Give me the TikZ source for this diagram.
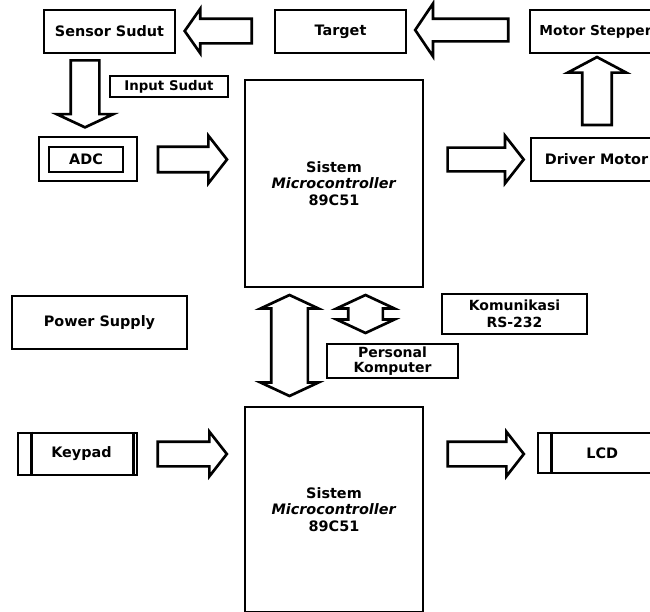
\documentclass[tikz,border=0pt]{standalone}
\usepackage{fontspec}
\setmainfont{DejaVu Sans}
\usetikzlibrary{shapes.arrows}

\tikzset{every picture/.style={line width=2pt}}
\tikzset{
  blk/.style={draw, line width=2pt, inner sep=0pt, align=center, font=\bfseries\fontsize{10.8}{12.6}\selectfont},
  blkarrow/.style={single arrow, draw, line width=2pt, inner sep=0pt, single arrow tip angle=104},
  dblarrow/.style={double arrow, draw, line width=2pt, inner sep=0pt, double arrow tip angle=130},
}

\begin{document}
\begin{tikzpicture}[x=0.75pt,y=0.75pt,yscale=-1,xscale=1]
    \clip (0,0) rectangle (650,611);
    % top row
    \node [blk, minimum width=98.25pt, minimum height=32.25pt] (sensor) at (109.5,31.5) {Sensor Sudut};
    \node [blk, minimum width=98.25pt, minimum height=32.25pt] (target) at (340.5,31.5) {Target};
    \node [blk, minimum width=98.25pt, minimum height=32.25pt, font=\bfseries\fontsize{10.3}{12}\selectfont] (stepper) at (595.5,31.5) {Motor Stepper};
    \node [blk, minimum width=88.5pt, minimum height=15.75pt, font=\bfseries\fontsize{10}{12}\selectfont] (insudut) at (169,86.5) {Input Sudut};
    % first microcontroller
    \node [blk, minimum width=133.5pt, minimum height=155.25pt] (mcu1) at (334,183.5) {Sistem\\\textit{Microcontroller}\\89C51};
    \node [blk, minimum width=73.5pt, minimum height=33pt] (adcbox) at (88,159) {};
    \node [blk, minimum width=55.5pt, minimum height=18.75pt] (adc) at (86,159.5) {ADC};
    \node [blk, minimum width=98.25pt, minimum height=32.25pt] (driver) at (596.5,159.5) {Driver Motor};
    % middle
    \node [blk, minimum width=131.25pt, minimum height=39.75pt] (power) at (99.5,322.5) {Power Supply};
    \node [blk, minimum width=108.75pt, minimum height=30pt, font=\bfseries\fontsize{10.5}{12.5}\selectfont] (rs232) at (514.5,314) {Komunikasi\\RS-232};
    \node [blk, minimum width=98.25pt, minimum height=25.5pt, font=\bfseries\fontsize{10.5}{11.5}\selectfont] (pc) at (392.5,361) {Personal\\Komputer};
    % second microcontroller
    \node [blk, minimum width=133.5pt, minimum height=153.75pt] (mcu2) at (334,509.5) {Sistem\\\textit{Microcontroller}\\89C51};
    \node [blk, minimum width=89.25pt, minimum height=31.5pt] (keypad) at (77.5,454) {\hspace{6pt}Keypad};
    \node [blk, minimum width=88.5pt, minimum height=30pt] (lcd) at (597,453) {\hspace{8pt}LCD};
    \draw ([xshift=11.25pt]keypad.north west) -- ([xshift=11.25pt]keypad.south west);
    \draw ([xshift=-3.75pt]keypad.north east) -- ([xshift=-3.75pt]keypad.south east);
    \draw ([xshift=11.25pt]lcd.north west) -- ([xshift=11.25pt]lcd.south west);
    % block arrows
    \node [blkarrow, shape border rotate=180, inner ysep=8.25pt, minimum height=50.25pt, minimum width=31.5pt, single arrow head extend=7.5pt, single arrow tip angle=110] (tgtsens) at (222.5,31) {};
    \node [blkarrow, shape border rotate=180, inner ysep=7.5pt, minimum height=69.75pt, minimum width=37.5pt, single arrow head extend=11.25pt, single arrow tip angle=112] (steptgt) at (465.5,30) {};
    \node [blkarrow, shape border rotate=270, inner xsep=9.75pt, minimum height=50.25pt, minimum width=40.5pt, single arrow head extend=10.5pt, single arrow tip angle=130] (sensadc) at (85,90.5) {};
    \node [blkarrow, inner ysep=8.6pt, minimum height=51.75pt, minimum width=33.75pt, single arrow head extend=8.25pt] (adcmcu) at (187.5,159.5) {};
    \node [blkarrow, inner ysep=7.9pt, minimum height=57pt, minimum width=33.75pt, single arrow head extend=9pt] (mcudrv) at (481,159.5) {};
    \node [blkarrow, shape border rotate=90, inner xsep=10.1pt, minimum height=51pt, minimum width=42pt, single arrow head extend=10.9pt, single arrow tip angle=124] (drvstep) at (597,95) {};
    \node [dblarrow, shape border rotate=90, inner xsep=12.75pt, minimum height=75.75pt, minimum width=41.25pt, double arrow head extend=7.9pt] (mcumcu) at (289.5,345.5) {};
    \node [dblarrow, shape border rotate=90, inner xsep=12pt, minimum height=28.5pt, minimum width=41.25pt, double arrow head extend=8.6pt] (mcupc) at (365.5,314) {};
    \node [blkarrow, inner ysep=8.25pt, minimum height=51.75pt, minimum width=31.5pt, single arrow head extend=7.5pt] (keymcu) at (187.5,454) {};
    \node [blkarrow, inner ysep=8.25pt, minimum height=57pt, minimum width=31.5pt, single arrow head extend=7.5pt] (mculcd) at (481,454) {};
\end{tikzpicture}
\end{document}
